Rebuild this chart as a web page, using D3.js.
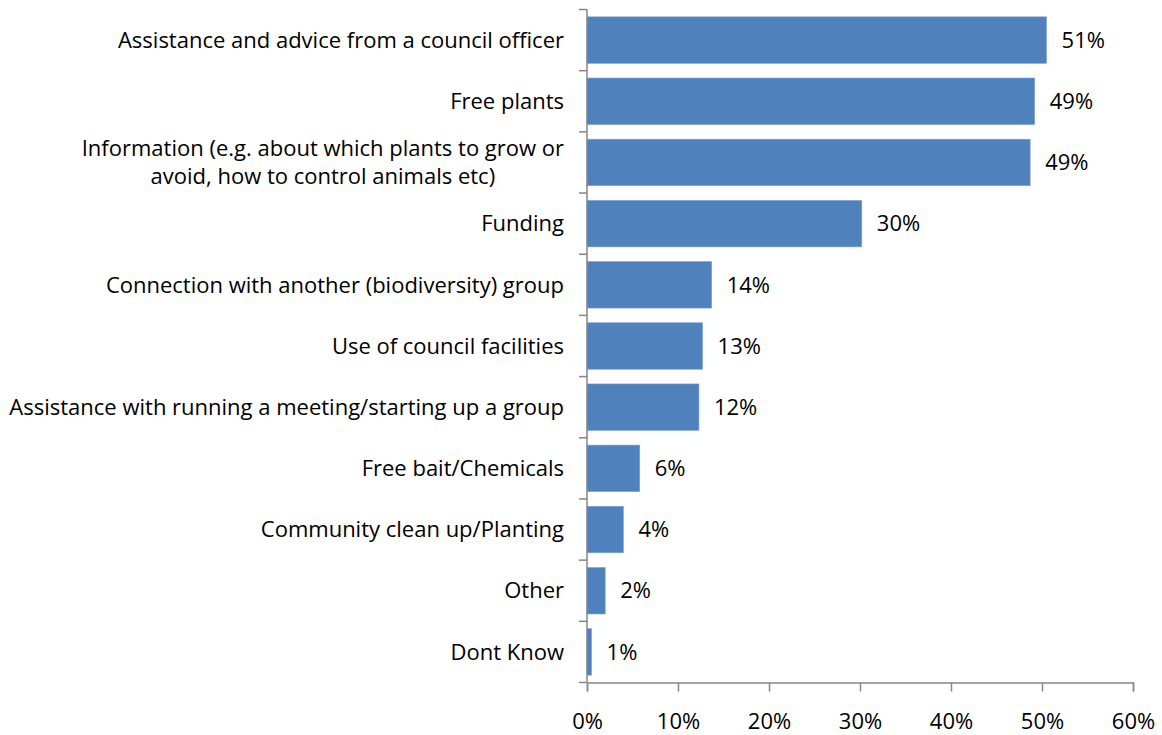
<!DOCTYPE html>
<html>
<head>
<meta charset="utf-8">
<script src="https://cdn.jsdelivr.net/npm/d3@7"></script>
<style>
  html, body { margin: 0; padding: 0; background: #fff; }
  svg { display: block; }
  text { font-family: "Open Sans", sans-serif; fill: #000; }
</style>
</head>
<body>
<svg id="chart" width="1162" height="735"></svg>
<script>
const categories = [
  "Assistance and advice from a council officer",
  "Free plants",
  "Information (e.g. about which plants to grow or|avoid, how to control animals etc)",
  "Funding",
  "Connection with another (biodiversity) group",
  "Use of council facilities",
  "Assistance with running a meeting/starting up a group",
  "Free bait/Chemicals",
  "Community clean up/Planting",
  "Other",
  "Dont Know"
];
const values = [50.5, 49.2, 48.7, 30.2, 13.7, 12.7, 12.3, 5.8, 4.0, 2.0, 0.5];
const valueLabels = ["51%", "49%", "49%", "30%", "14%", "13%", "12%", "6%", "4%", "2%", "1%"];
const xTicks = [0, 10, 20, 30, 40, 50, 60];

const FS = "22px";
const svg = d3.select("#chart");
const x = d3.scaleLinear().domain([0, 60]).range([587, 1133]);
const y = d3.scaleBand().domain(categories).range([9.5, 682.5]).paddingInner(0.24).paddingOuter(0.12);
const step = y.step();
const data = categories.map((c, i) => ({c, v: values[i], l: valueLabels[i]}));

// bars
svg.append("g").selectAll("rect").data(data).join("rect")
  .attr("x", x(0))
  .attr("y", d => y(d.c))
  .attr("width", d => x(d.v) - x(0))
  .attr("height", y.bandwidth())
  .attr("fill", "#4F81BD")
  .attr("stroke", "#7FA3D0")
  .attr("stroke-width", 0.6);

// value labels
svg.append("g").selectAll("text").data(data).join("text")
  .attr("x", d => x(d.v) + 15)
  .attr("y", d => y(d.c) + y.bandwidth() / 2)
  .attr("dy", "0.35em")
  .style("font-size", FS)
  .text(d => d.l);

// y axis (category boundaries)
const yAxis = svg.append("g");
const bounds = d3.range(categories.length + 1).map(i => y.range()[0] + i * step);
yAxis.append("line")
  .attr("x1", x(0)).attr("x2", x(0))
  .attr("y1", bounds[0]).attr("y2", bounds[bounds.length - 1])
  .attr("stroke", "#868686").attr("stroke-width", 1.5);
yAxis.selectAll("line.tick").data(bounds).join("line")
  .attr("class", "tick")
  .attr("x1", x(0) - 8).attr("x2", x(0))
  .attr("y1", d => d).attr("y2", d => d)
  .attr("stroke", "#868686").attr("stroke-width", 1.5);

// category labels
const labelRight = 564;
const labels = svg.append("g").selectAll("text").data(data).join("text")
  .attr("x", labelRight)
  .attr("y", d => y(d.c) + y.bandwidth() / 2)
  .attr("text-anchor", "end")
  .style("font-size", FS);
labels.each(function(d) {
  const parts = d.c.split("|");
  const t = d3.select(this);
  if (parts.length === 1) {
    t.attr("dy", "0.35em").text(parts[0]);
    return;
  }
  const spans = parts.map((p, i) => t.append("tspan")
    .attr("x", labelRight)
    .attr("dy", i === 0 ? (0.35 - (parts.length - 1) * 0.65) + "em" : "1.3em")
    .text(p));
  const w = d3.max(spans, s => s.node().getComputedTextLength());
  t.attr("text-anchor", "middle");
  spans.forEach(s => s.attr("x", labelRight - w / 2));
});

// x axis
const xAxis = svg.append("g").attr("transform", `translate(0,${bounds[bounds.length - 1]})`)
  .call(d3.axisBottom(x).tickValues(xTicks).tickSize(9).tickPadding(22).tickFormat(d => d + "%"));
xAxis.select(".domain").attr("stroke", "#868686").attr("stroke-width", 1.5);
xAxis.selectAll(".tick line").attr("stroke", "#868686").attr("stroke-width", 1.5);
xAxis.selectAll(".tick text").style("font-size", FS).style("font-family", "Open Sans, sans-serif").attr("fill", "#000");
</script>
</body>
</html>
